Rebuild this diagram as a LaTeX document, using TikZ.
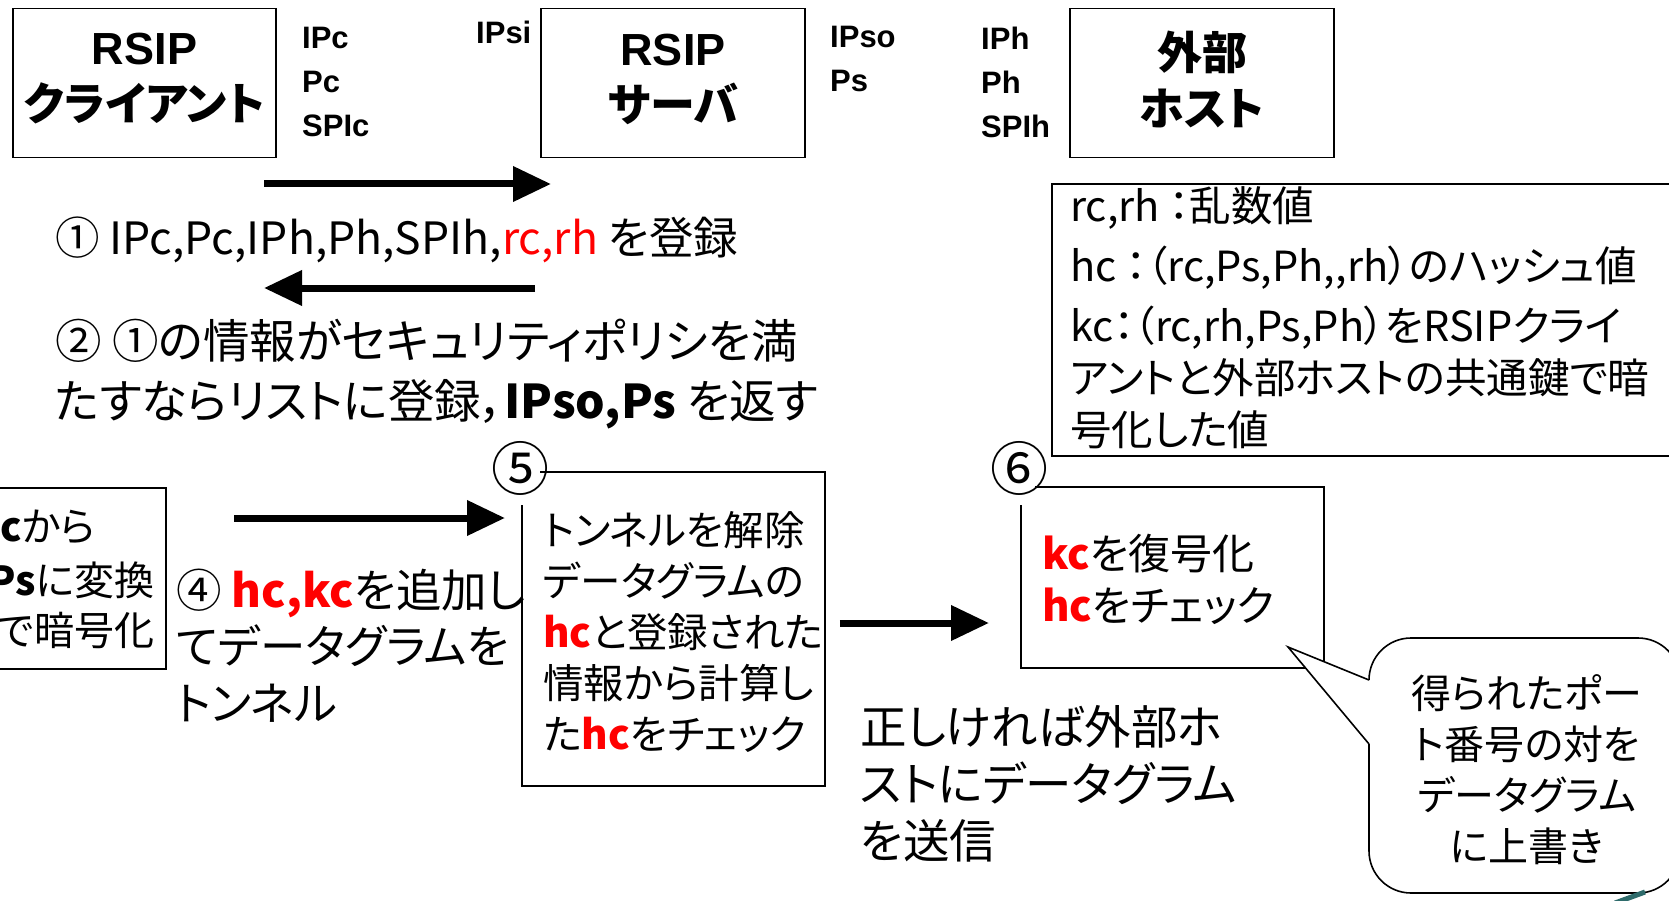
\documentclass[tikz,border=0pt]{standalone}
\usepackage{fontspec}
\usepackage{xcolor}
\usetikzlibrary{arrows.meta,calc}
\setmainfont{Noto Sans CJK JP}[RawFeature={+palt}]
\newfontfamily\arialf{Liberation Sans}
\definecolor{tealdeco}{HTML}{2E6B6B}
\newcommand{\rb}[1]{\textcolor{red}{\bfseries #1}}
\tikzset{
  box/.style={draw, line width=1.6pt, inner sep=0pt},
  txt/.style={inner sep=0pt, anchor=west, align=left},
  bigarrow/.style={line width=7pt, -{Triangle[length=38pt,width=34pt]}},
  lbl/.style={inner sep=0pt, anchor=west, align=left, font=\arialf\bfseries\fontsize{31}{44}\selectfont},
  title/.style={inner sep=0pt, align=center, font=\bfseries\fontsize{45}{56}\selectfont},
}
\begin{document}
\begin{tikzpicture}[x=1pt,y=-1pt]
\useasboundingbox (0,0) rectangle (1669,901);
\fill[white] (0,0) rectangle (1669,901);

% top boxes
\node[box, minimum width=263pt, minimum height=149pt] (client) at (144.5,83) {};
\node[title] (clientT) at (144.5,79) {{\arialf\bfseries RSIP}\\クライアント};
\node[box, minimum width=264pt, minimum height=149pt] (server) at (673,83) {};
\node[title] (serverT) at (673,79) {{\arialf\bfseries RSIP}\\サーバ};
\node[box, minimum width=264pt, minimum height=149pt] (host) at (1202,83) {};
\node[title] (hostT) at (1202,79) {外部\\ホスト};

% address labels
\node[lbl] (lc) at (302,82) {IPc\\Pc\\SPIc};
\node[lbl] (lsi) at (476,32) {IPsi};
\node[lbl] (lso) at (830,59) {IPso\\Ps};
\node[lbl] (lh) at (981,82) {IPh\\Ph\\SPIh};

% step 1 and 2 arrows
\coordinate (a1s) at (264,184);
\coordinate (a1e) at (551,184);
\draw[bigarrow] (a1s) -- (a1e);
\node[txt, font=\fontsize{44.5}{56}\selectfont] (s1) at (55,240) {① IPc,Pc,IPh,Ph,SPIh,\textcolor{red}{rc,rh} を登録};
\coordinate (a2s) at (535,288);
\coordinate (a2e) at (264,288);
\draw[bigarrow] (a2s) -- (a2e);
\node[txt, font=\fontsize{46.5}{60}\selectfont] (s2) at (55,374) {② ①の情報がセキュリティポリシを満\\たすならリストに登録，{\bfseries IPso,Ps} を返す};

% legend box
\node[box, anchor=north west, minimum width=640pt, minimum height=272pt] (legend) at (1051,183) {};
\node[txt, font=\fontsize{41.5}{52}\selectfont] (legendT) at (1070,318) {rc,rh ：乱数値\\[8pt]hc ：（rc,Ps,Ph,{},rh）のハッシュ値\\[8pt]kc：（rc,rh,Ps,Ph）をRSIPクライ\\アントと外部ホストの共通鍵で暗\\号化した値};

% left partial box
\node[box, anchor=north east, minimum width=200pt, minimum height=181pt] (leftbox) at (167,487) {};
\node[txt, font=\fontsize{40}{52}\selectfont] (l1) at (0,527) {{\bfseries c}から};
\node[txt, font=\fontsize{40}{52}\selectfont] (l2) at (-12,580) {{\bfseries Ps}に変換};
\node[txt, font=\fontsize{40}{52}\selectfont] (l3) at (-3,630) {で暗号化};

% step 4
\coordinate (a3s) at (234,518);
\coordinate (a3e) at (505,518);
\draw[bigarrow] (a3s) -- (a3e);
\node[txt, font=\fontsize{45.5}{56.5}\selectfont] (s4) at (176,645.5) {④ \rb{hc,kc}を追加し\\てデータグラムを\\トンネル};

% step 5 box
\node[box, minimum width=303pt, minimum height=314pt] (box5) at (673.5,629) {};
\fill[white] (495,440) rectangle (540,505);
\node[inner sep=0pt, font=\fontsize{58}{60}\selectfont] (n5) at (520,468) {⑤};
\node[txt, font=\fontsize{40.5}{51}\selectfont] (t5) at (543,631.5) {トンネルを解除\\データグラムの\\\rb{hc}と登録された\\情報から計算し\\た\rb{hc}をチェック};

% step 6 box
\node[box, minimum width=303pt, minimum height=181pt] (box6) at (1172.5,577.5) {};
\fill[white] (994,442) rectangle (1035,505);
\node[inner sep=0pt, font=\fontsize{58}{60}\selectfont] (n6) at (1019,468) {⑥};
\node[txt, font=\fontsize{42}{52}\selectfont] (t6) at (1042,579) {\rb{kc}を復号化\\\rb{hc}をチェック};

\coordinate (a4) at (989,623);
\draw[bigarrow, shorten <=14pt] (box5.east |- a4) -- (a4);

\node[txt, font=\fontsize{46.5}{57}\selectfont] (sent) at (860,784) {正しければ外部ホ\\ストにデータグラム\\を送信};

% callout
\coordinate (tip) at (1288,647);
\draw[line width=1.6pt, fill=white, rounded corners=42pt]
  (1369,680) -- (1369,638) -- (1680,638) -- (1680,893) -- (1369,893) -- (1369,744);
\fill[white] (1369,680) -- (tip) -- (1369,744) -- cycle;
\draw[line width=1.6pt, line join=miter] (1369,680) -- (tip) -- (1369,744);
\node[inner sep=0pt, align=center, font=\fontsize{40}{51}\selectfont] (callT) at (1527,770) {得られたポー\\ト番号の対を\\データグラム\\に上書き};

% slide decoration
\draw[tealdeco, line width=5pt] (1615,903) -- (1645,892);
\end{tikzpicture}
\end{document}
